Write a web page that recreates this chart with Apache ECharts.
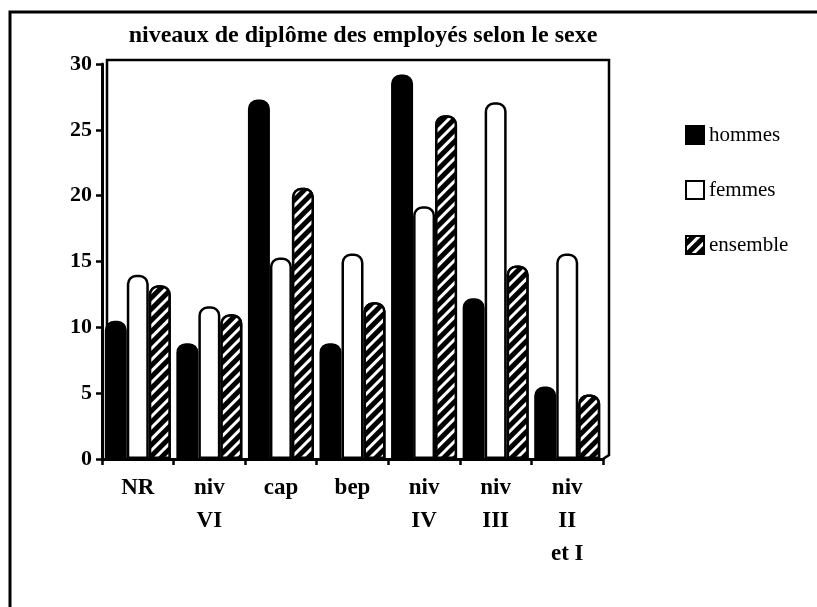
<!DOCTYPE html>
<html>
<head>
<meta charset="utf-8">
<script src="https://cdn.jsdelivr.net/npm/echarts@6/dist/echarts.min.js"></script>
<style>
  html, body { margin: 0; padding: 0; background: #fff; }
  #chart { width: 817px; height: 607px; }
</style>
</head>
<body>
<div id="chart"></div>
<script>
// données
const categories = ['NR', 'niv\nVI', 'cap', 'bep', 'niv\nIV', 'niv\nIII', 'niv\nII\net I']
const hommes = [10.5, 8.8, 27.3, 8.8, 29.2, 12.2, 5.5]
const femmes = [14, 11.6, 15.3, 15.6, 19.2, 27.1, 15.6]
const ensemble = [13.2, 11, 20.6, 11.9, 26.1, 14.7, 4.9]
const yTicks = { min: 0, max: 30, interval: 5 }

const serif = '"Liberation Serif", "DejaVu Serif", serif'
const chart = echarts.init(document.getElementById('chart'))

// hachures de la série "ensemble"
const hatch = {
  color: '#fff',
  symbol: 'rect',
  symbolSize: 1,
  dashArrayX: [[1, 0]],
  dashArrayY: [3, 5],
  rotation: -Math.PI / 4
}

const barStyle = (color, extra) => Object.assign({
  color: color,
  borderColor: '#000',
  borderWidth: 2.5,
  borderRadius: [8, 8, 0, 0]
}, extra || {})

const option = {
  backgroundColor: '#fff',
  animation: false,
  title: {
    text: 'niveaux de diplôme des employés selon le sexe',
    left: 358,
    textAlign: 'center',
    top: 19,
    textStyle: { fontFamily: serif, fontSize: 24, fontWeight: 'bold', color: '#000' }
  },
  legend: {
    orient: 'vertical',
    left: 680,
    top: 118,
    itemWidth: 18,
    itemHeight: 18,
    itemGap: 31,
    icon: 'rect',
    textStyle: { fontFamily: serif, fontSize: 21, lineHeight: 24, color: '#000' },
    data: ['hommes', 'femmes', 'ensemble']
  },
  grid: { left: 102, top: 64, width: 501, bottom: 148, containLabel: false },
  xAxis: {
    type: 'category',
    data: categories,
    axisLine: { lineStyle: { color: '#000', width: 3 } },
    axisTick: { show: true, length: 6, lineStyle: { color: '#000', width: 2.5 } },
    axisLabel: { color: '#000', fontFamily: serif, fontSize: 23, fontWeight: 'bold', lineHeight: 33, margin: 13 }
  },
  yAxis: {
    type: 'value',
    min: yTicks.min,
    max: yTicks.max,
    interval: yTicks.interval,
    axisLine: { show: true, lineStyle: { color: '#000', width: 3 } },
    axisTick: { show: true, length: 6, lineStyle: { color: '#000', width: 2.5 } },
    axisLabel: { color: '#000', fontFamily: serif, fontSize: 22, fontWeight: 'bold', margin: 10 },
    splitLine: { show: false }
  },
  series: [
    {
      name: 'hommes', type: 'bar', data: hommes,
      barWidth: 22, barGap: '0%',
      itemStyle: barStyle('#000')
    },
    {
      name: 'femmes', type: 'bar', data: femmes,
      barWidth: 22, barGap: '0%',
      itemStyle: barStyle('#fff')
    },
    {
      name: 'ensemble', type: 'bar', data: ensemble,
      barWidth: 22, barGap: '0%',
      itemStyle: barStyle('#000', { decal: hatch })
    }
  ],
  graphic: [
    // cadre extérieur
    {
      type: 'polyline', silent: true,
      shape: { points: [[10, 607], [10, 12], [817, 12]] },
      style: { stroke: '#000', lineWidth: 3, fill: null }
    },
    // fond du graphique (effet 3D)
    {
      type: 'polyline', silent: true, z: -1,
      shape: { points: [[107, 459], [107, 60], [609, 60], [609, 455], [603, 459]] },
      style: { stroke: '#000', lineWidth: 2.5, fill: null }
    }
  ]
}

chart.setOption(option)
</script>
</body>
</html>
